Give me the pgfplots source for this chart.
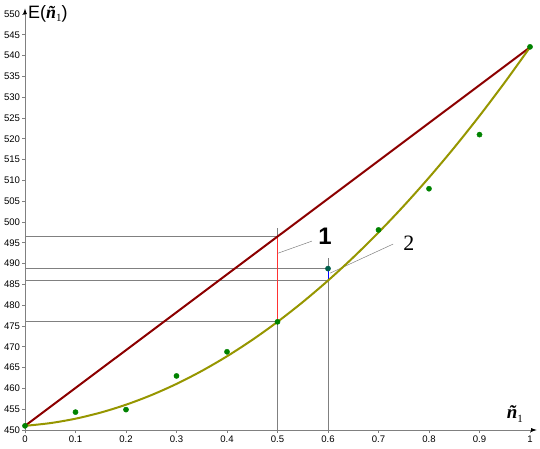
\documentclass[border=0pt]{standalone}
\usepackage{pgfplots}
\pgfplotsset{compat=1.18}
\usepackage{fontspec}
\setmainfont{Liberation Sans}
\newfontfamily\serifrm{Liberation Serif}
\usetikzlibrary{arrows.meta}
\definecolor{darkred}{RGB}{140,0,0}
\definecolor{curveol}{RGB}{150,150,0}
\definecolor{ptgreen}{RGB}{0,130,0}
\definecolor{ptteal}{RGB}{0,95,75}
\definecolor{redseg}{RGB}{255,50,50}
\newcommand{\ntil}{{\serifrm\bfseries\itshape ñ}\raisebox{-0.35ex}{{\serifrm\fontsize{11}{11}\selectfont 1}}}
\begin{document}
\begin{tikzpicture}
\begin{axis}[
  scale only axis, x=505bp, y=4.16bp,
  xmin=0, xmax=1.014, ymin=450, ymax=551.4,
  axis lines=left,
  axis line style={draw=gray, line width=0.8bp, -{Latex[length=6bp,width=4bp,color=black]}},
  xtick={0,0.1,0.2,0.3,0.4,0.5,0.6,0.7,0.8,0.9,1},
  xticklabels={0,0.1,0.2,0.3,0.4,0.5,0.6,0.7,0.8,0.9,1},
  ytick={450,455,460,465,470,475,480,485,490,495,500,505,510,515,520,525,530,535,540,545,550},
  tick label style={font=\fontsize{9.6}{10}\selectfont},
  /pgf/number format/assume math mode=true,
  tick align=outside, major tick length=3bp, tick style={gray, line width=0.6bp},
  xticklabel style={yshift=1bp},
  yticklabel style={xshift=1.5bp},
  clip=false,
]
\coordinate (O) at (axis cs:0,450);
% guide lines
\addplot[gray, line width=0.7bp] coordinates {(0,496.5) (0.5,496.5)};
\addplot[gray, line width=0.7bp] coordinates {(0,476) (0.5,476)};
\addplot[gray, line width=0.7bp] coordinates {(0,488.8) (0.6,488.8)};
\addplot[gray, line width=0.7bp] coordinates {(0,485.9) (0.6,485.9)};
\addplot[gray, line width=0.7bp] coordinates {(0.5,450) (0.5,498.5)};
\addplot[gray, line width=0.7bp] coordinates {(0.6,450) (0.6,491.3)};
\addplot[redseg, line width=1bp] coordinates {(0.5,476) (0.5,496.5)};
\addplot[blue, line width=1bp] coordinates {(0.6,485.9) (0.6,488.8)};
% leaders
\addplot[gray, line width=0.5bp] coordinates {(0.501,492.5) (0.568,495.4)};
\addplot[gray, line width=0.5bp] coordinates {(0.604,487.7) (0.729,494.7)};
% chord
\addplot[darkred, line width=2bp] coordinates {(0,451) (1,542)};
% fitted curve
\addplot[curveol, line width=2bp, smooth] coordinates {
(0,451) (0.05,451.655) (0.1,452.72) (0.15,454.195) (0.2,456.08) (0.25,458.375)
(0.3,461.08) (0.35,464.195) (0.4,467.72) (0.45,471.655) (0.5,476) (0.55,480.755)
(0.6,485.92) (0.65,491.495) (0.7,497.48) (0.75,503.875) (0.8,510.68) (0.85,517.895)
(0.9,525.52) (0.95,533.555) (1,542)};
% data points
\addplot[only marks, mark=*, mark size=2.6bp, ptgreen] coordinates {
(0,451) (0.1,454.3) (0.2,454.9) (0.3,463) (0.4,468.8) (0.5,476)
(0.7,498.1) (0.8,508) (0.9,521) (1,542.1)};
\addplot[only marks, mark=*, mark size=2.6bp, ptteal] coordinates {(0.6,488.8)};
% labels
\node at (axis cs:0.594,496.5) {\fontsize{24}{24}\selectfont\bfseries 1};
\node at (axis cs:0.760,495.0) {\serifrm\fontsize{22}{22}\selectfont 2};
\node[anchor=west, inner sep=0pt] at ([xshift=3bp]axis cs:0,550) {\fontsize{18}{18}\selectfont E(\ntil)};
\node[inner sep=0pt] at (axis cs:0.970,453.8) {\fontsize{19}{19}\selectfont\ntil};
\end{axis}
\pgfresetboundingbox
\path (O) ++(-25bp,-19bp) rectangle ++(540bp,449bp);
\end{tikzpicture}
\end{document}
